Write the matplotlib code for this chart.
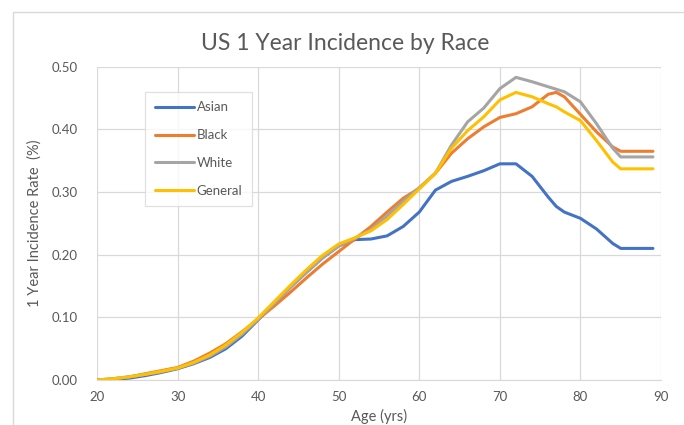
import matplotlib
matplotlib.use("Agg")
import matplotlib.pyplot as plt
from matplotlib.patches import Rectangle

plt.rcParams['font.family'] = ['Lato', 'DejaVu Sans']

ages = [20, 22, 24, 26, 28, 30, 32, 34, 36, 38, 40, 42, 44, 46, 48, 50, 52, 54, 56, 58,
        60, 62, 64, 66, 68, 70, 72, 74, 76, 77, 78, 80, 82, 84, 85, 89]

asian = [0.000, 0.001, 0.003, 0.007, 0.012, 0.018, 0.026, 0.036, 0.050, 0.070, 0.096,
         0.122, 0.148, 0.172, 0.195, 0.214, 0.224, 0.225, 0.230, 0.245, 0.268, 0.303,
         0.317, 0.325, 0.334, 0.345, 0.345, 0.325, 0.292, 0.277, 0.268, 0.258, 0.241,
         0.218, 0.210, 0.210]
black = [0.000, 0.002, 0.005, 0.010, 0.015, 0.020, 0.030, 0.043, 0.058, 0.077, 0.097,
         0.118, 0.140, 0.163, 0.185, 0.205, 0.225, 0.245, 0.268, 0.290, 0.306, 0.330,
         0.362, 0.385, 0.404, 0.419, 0.425, 0.436, 0.456, 0.459, 0.452, 0.424, 0.396,
         0.372, 0.365, 0.365]
white = [0.000, 0.002, 0.005, 0.009, 0.013, 0.019, 0.027, 0.038, 0.053, 0.073, 0.097,
         0.122, 0.148, 0.172, 0.195, 0.214, 0.226, 0.240, 0.262, 0.285, 0.307, 0.330,
         0.375, 0.412, 0.434, 0.465, 0.483, 0.476, 0.468, 0.464, 0.460, 0.444, 0.409,
         0.370, 0.356, 0.356]
general = [0.000, 0.002, 0.005, 0.009, 0.014, 0.019, 0.028, 0.040, 0.056, 0.076, 0.099,
           0.125, 0.151, 0.176, 0.199, 0.217, 0.227, 0.238, 0.256, 0.280, 0.305, 0.330,
           0.370, 0.398, 0.420, 0.447, 0.459, 0.452, 0.441, 0.436, 0.428, 0.414, 0.382,
           0.348, 0.337, 0.337]

series_names = ["Asian", "Black", "White", "General"]
series_colors = ["#4472C4", "#ED7D31", "#A5A5A5", "#FFC000"]
x_ticks = [20, 30, 40, 50, 60, 70, 80, 90]
y_ticks = [0.0, 0.1, 0.2, 0.3, 0.4, 0.5]

fig = plt.figure(figsize=(6.84, 4.25), dpi=100)
ax = fig.add_axes([97/684, 1-380/425, (661-97)/684, (380-66.7)/425])

for vals, name, col in zip([asian, black, white, general], series_names, series_colors):
    ax.plot(ages, vals, color=col, lw=2.2, label=name, solid_capstyle='round')

ax.set_xlim(20, 90)
ax.set_ylim(0, 0.5)
ax.set_xticks(x_ticks)
ax.set_yticks(y_ticks)
ax.set_yticklabels([f"{v:.2f}" for v in y_ticks])
ax.grid(True, color="#D9D9D9", lw=0.9)
ax.set_axisbelow(True)
for s in ["top", "right", "left"]:
    ax.spines[s].set_visible(False)
ax.spines["bottom"].set_color("#D9D9D9")
ax.tick_params(length=0, colors="#595959", labelsize=9.5)
ax.tick_params(axis="y", pad=14)
ax.tick_params(axis="x", pad=8)

ax.set_xlabel("Age (yrs)", color="#595959", fontsize=10.5, labelpad=4)
ax.set_ylabel("1 Year Incidence Rate  (%)", color="#595959", fontsize=10.5, labelpad=7)
fig.text(345/684, 1-44/425, "US 1 Year Incidence by Race", color="#595959",
         fontsize=16.5, ha="center", va="center")

leg = ax.legend(loc="upper left", bbox_to_anchor=(0.074, 0.94), fontsize=9.5,
                frameon=True, fancybox=False, edgecolor="#D9D9D9", labelspacing=1.2,
                handlelength=3.0, handletextpad=0.2, borderpad=0.7)
leg.get_frame().set_linewidth(0.9)
for t in leg.get_texts():
    t.set_color("#595959")

fig.patches.append(Rectangle((13/684, -0.1), 1.0, 1 - 12/425 + 0.1, transform=fig.transFigure,
                             fill=False, edgecolor="#D9D9D9", lw=1.0))

fig.savefig("out.png", dpi=100)
